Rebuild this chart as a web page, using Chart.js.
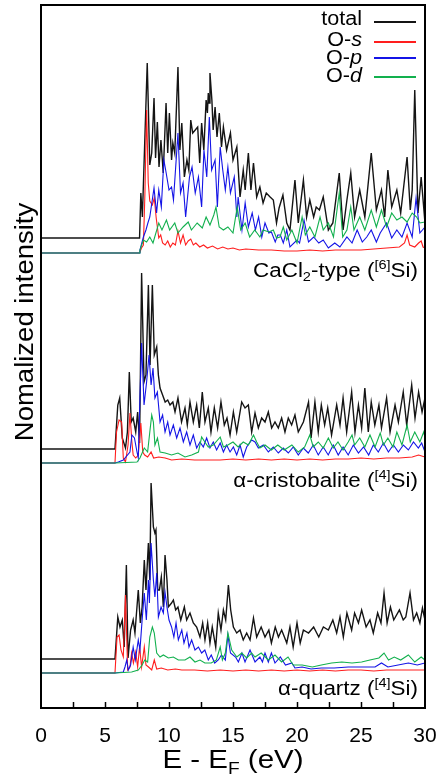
<!DOCTYPE html>
<html>
<head>
<meta charset="utf-8">
<title>O-projected DOS</title>
<script src="https://cdn.jsdelivr.net/npm/chart.js@4.4.1/dist/chart.umd.min.js"></script>
<style>
  html, body { margin: 0; padding: 0; background: #fff; }
  canvas { display: block; }
</style>
</head>
<body>
<canvas id="dos" width="436" height="779"></canvas>
<script>
// series: [energy (eV), intensity above the panel baseline]
const seriesNames = ["total", "O-s", "O-p", "O-d"];
const seriesColors = ["#141414", "#ff1e1e", "#1414e6", "#12b04e"];

// CaCl2-type ([6]Si)
const cacl2Total = [[0,15],[7.7,15],[7.8,60],[7.92,36],[8.3,190],[8.5,88],[8.65,100],[8.83,155],[8.95,95],[9.09,131],[9.22,86],[9.37,113],[9.55,80],[9.77,150],[9.9,100],[10.03,140],[10.2,93],[10.3,110],[10.45,100],[10.7,186],[10.85,103],[11.0,130],[11.2,76],[11.4,93],[11.55,83],[11.7,133],[11.85,120],[12.05,123],[12.24,126],[12.4,90],[12.55,130],[12.72,103],[12.9,153],[13.0,140],[13.07,160],[13.14,150],[13.2,180],[13.35,153],[13.45,123],[13.6,146],[13.75,116],[13.93,140],[14.1,106],[14.25,126],[14.5,103],[14.8,120],[15.0,93],[15.3,106],[15.55,56],[15.8,83],[15.95,63],[16.2,100],[16.4,63],[16.6,90],[16.85,56],[17.1,66],[17.35,50],[17.6,60],[17.9,56],[18.15,53],[18.4,30],[18.6,45],[18.9,58],[19.2,30],[19.45,23],[19.84,73],[20.1,30],[20.5,73],[20.75,36],[21.0,53],[21.3,36],[21.5,46],[21.75,43],[22.05,56],[22.45,23],[22.8,30],[23.3,80],[23.6,23],[23.9,53],[24.2,80],[24.5,36],[24.9,63],[25.3,36],[25.8,100],[26.2,43],[26.6,63],[26.85,36],[27.1,83],[27.4,46],[27.8,63],[28.1,40],[28.6,96],[28.85,43],[29.0,63],[29.2,163],[29.45,40],[29.7,76],[30,30]];
const cacl2S = [[0,0],[7.7,0],[7.85,5],[8.0,8],[8.12,60],[8.25,143],[8.38,70],[8.5,52],[8.7,48],[8.85,55],[9.0,35],[9.2,15],[9.35,18],[9.5,10],[9.7,8],[9.9,12],[10.1,6],[10.3,10],[10.5,8],[10.7,22],[10.9,10],[11.1,18],[11.3,8],[11.5,12],[11.7,14],[11.9,8],[12.1,10],[12.4,6],[12.7,8],[13.0,5],[13.4,7],[13.8,4],[14.2,6],[14.6,4],[15.0,5],[15.5,3],[16.0,4],[17,3],[18,3],[19,2],[20,2],[21,3],[22,2],[23,3],[24,3],[25,3],[26,4],[27,5],[28,6],[28.4,10],[28.6,18],[28.8,8],[29.2,6],[29.5,10],[29.7,12],[29.85,6],[30,5]];
const cacl2P = [[0,0],[7.7,0],[7.73,3],[8.0,16],[8.2,23],[8.35,30],[8.5,36],[8.83,65],[9.03,40],[9.2,63],[9.4,46],[9.6,93],[9.78,80],[10.0,63],[10.2,66],[10.35,53],[10.7,120],[10.9,60],[11.1,70],[11.3,36],[11.6,76],[11.8,86],[12.05,60],[12.3,76],[12.55,46],[12.73,103],[12.95,76],[13.15,136],[13.33,83],[13.6,93],[13.78,46],[14.0,106],[14.2,83],[14.4,63],[14.6,86],[14.8,60],[15.1,76],[15.3,36],[15.4,56],[15.7,23],[15.95,50],[16.2,26],[16.5,40],[16.75,23],[17.0,36],[17.25,16],[17.5,30],[17.8,20],[18.0,21],[18.3,11],[18.5,18],[18.7,18],[18.93,10],[19.2,23],[19.45,6],[20.0,13],[20.2,10],[20.55,33],[20.9,11],[21.3,16],[21.7,10],[22.05,13],[22.45,5],[22.95,10],[23.35,6],[23.9,16],[24.3,10],[24.7,23],[25.1,11],[25.45,16],[25.8,23],[26.2,11],[26.5,20],[27.0,30],[27.4,15],[27.8,23],[28.2,16],[28.6,30],[29.0,16],[29.3,55],[29.6,20],[30,26]];
const cacl2D = [[0,0],[7.7,0],[7.73,3],[8.0,13],[8.25,11],[8.5,16],[8.75,10],[9.2,30],[9.45,23],[9.8,33],[10.05,23],[10.45,30],[10.7,20],[11.1,26],[11.5,31],[11.75,23],[12.2,30],[12.6,25],[12.9,36],[13.2,28],[13.5,38],[13.67,46],[13.92,26],[14.25,23],[14.6,26],[15.0,20],[15.33,46],[15.6,23],[15.95,30],[16.3,16],[16.7,23],[17.1,16],[17.35,23],[17.8,21],[18.15,23],[18.4,15],[18.67,16],[18.93,26],[19.2,13],[19.6,23],[20.0,10],[20.4,36],[20.65,18],[21.0,26],[21.4,16],[21.8,36],[22.05,23],[22.45,30],[22.85,16],[23.3,60],[23.57,16],[23.9,23],[24.2,46],[24.45,23],[24.9,36],[25.3,23],[25.8,43],[26.2,26],[26.6,43],[27.0,26],[27.4,40],[27.8,33],[28.2,36],[28.6,31],[29.0,40],[29.35,36],[29.6,30],[30,31]];

// alpha-cristobalite ([4]Si)
const cristTotal = [[0,14],[5.78,14],[6.0,58],[6.15,65],[6.35,25],[6.6,15],[6.75,31],[6.9,91],[7.05,41],[7.2,45],[7.4,31],[7.55,51],[7.7,20],[7.86,190],[8.05,81],[8.2,88],[8.39,178],[8.52,98],[8.7,178],[8.85,108],[9.04,116],[9.17,88],[9.3,75],[9.5,68],[9.7,61],[9.9,63],[10.08,58],[10.3,61],[10.47,51],[10.7,65],[10.98,41],[11.25,55],[11.43,38],[11.64,61],[11.9,41],[12.16,58],[12.37,35],[12.6,71],[12.81,41],[13.07,55],[13.28,31],[13.54,55],[13.8,35],[14.06,61],[14.32,38],[14.53,45],[14.77,28],[15.03,51],[15.29,31],[15.68,61],[15.94,55],[16.2,58],[16.46,31],[16.72,50],[16.98,35],[17.24,45],[17.5,41],[17.76,51],[18.02,35],[18.28,41],[18.54,35],[18.8,45],[19.06,31],[19.32,45],[19.58,38],[19.84,48],[20.1,31],[20.5,41],[20.9,61],[21.1,25],[21.4,61],[21.66,31],[21.9,58],[22.16,38],[22.4,55],[22.7,28],[23.1,58],[23.36,38],[23.6,65],[23.88,31],[24.27,71],[24.53,31],[24.8,58],[25.05,35],[25.3,75],[25.57,31],[25.8,61],[26.08,38],[26.4,58],[26.6,35],[27.0,65],[27.27,31],[27.66,58],[27.92,41],[28.3,71],[28.57,38],[28.96,78],[29.22,45],[29.5,71],[29.77,51],[30,65]];
const cristS = [[0,0],[5.78,0],[5.9,31],[6.1,43],[6.3,41],[6.43,5],[6.6,1],[6.8,18],[6.95,50],[7.1,21],[7.2,8],[7.4,5],[7.6,8],[7.8,40],[7.95,11],[8.1,8],[8.33,6],[8.6,11],[8.8,5],[9.2,6],[9.7,5],[10.2,3],[11,4],[12,3],[13,3],[14,3],[15,4],[16,3],[17,4],[18,3],[19,4],[20,3],[21,4],[22,3],[23,4],[24,4],[25,5],[26,4],[27,5],[28,5],[29,6],[29.5,8],[30,6]];
const cristP = [[0,0],[5.78,0],[6.04,1],[6.43,3],[6.95,11],[7.1,28],[7.3,25],[7.5,11],[7.6,5],[7.73,65],[7.86,120],[8.05,58],[8.25,81],[8.44,108],[8.6,78],[8.75,95],[8.9,65],[9.09,71],[9.3,41],[9.5,48],[9.69,31],[9.9,41],[10.08,28],[10.34,38],[10.6,25],[10.86,35],[11.12,21],[11.38,31],[11.64,18],[11.9,28],[12.16,15],[12.42,21],[12.68,16],[12.94,25],[13.2,15],[13.46,21],[13.72,13],[14.0,20],[14.25,11],[14.5,18],[14.77,11],[15.03,16],[15.29,8],[15.55,18],[15.8,6],[16.07,16],[16.46,23],[16.72,21],[16.98,15],[17.37,18],[17.76,11],[18.15,16],[18.54,10],[18.93,15],[19.32,10],[19.71,16],[20.1,8],[20.5,15],[20.88,10],[21.27,18],[21.66,8],[22.05,16],[22.44,8],[22.83,18],[23.22,8],[23.6,16],[24.0,8],[24.4,18],[24.8,10],[25.2,16],[25.6,8],[25.96,18],[26.35,11],[26.75,20],[27.14,11],[27.53,18],[27.92,11],[28.31,18],[28.7,13],[29.1,21],[29.48,15],[29.74,20],[30,11]];
const cristD = [[0,0],[5.78,0],[7.5,1],[7.73,5],[8.07,15],[8.33,11],[8.5,31],[8.65,48],[8.78,41],[8.9,18],[9.1,25],[9.3,11],[9.7,10],[10.2,8],[10.7,10],[11.25,6],[11.77,8],[12.3,11],[12.55,26],[12.8,21],[13.07,16],[13.46,18],[14.0,26],[14.25,16],[14.6,18],[15.0,21],[15.4,16],[15.8,21],[16.2,18],[16.6,28],[16.85,21],[17.1,15],[17.5,18],[18.0,13],[18.5,18],[19.0,13],[19.6,18],[20.1,11],[20.6,16],[21.0,28],[21.27,16],[21.66,21],[22.05,15],[22.45,25],[22.83,15],[23.2,21],[23.6,13],[24.0,21],[24.3,28],[24.5,18],[24.9,25],[25.3,16],[25.7,28],[26.1,16],[26.5,30],[26.75,18],[27.1,25],[27.5,16],[27.8,31],[28.2,18],[28.6,38],[28.85,21],[29.2,31],[29.6,21],[29.9,31],[30,25]];

// alpha-quartz ([4]Si)
const quartzTotal = [[0,14],[5.78,14],[6.0,56],[6.17,46],[6.35,53],[6.5,26],[6.67,108],[6.8,15],[7.0,43],[7.2,53],[7.34,40],[7.6,83],[7.76,50],[7.9,66],[8.07,113],[8.2,83],[8.39,130],[8.5,93],[8.6,190],[8.78,146],[8.9,140],[8.98,143],[9.12,83],[9.25,83],[9.4,96],[9.56,66],[9.69,118],[9.84,93],[9.95,66],[10.2,70],[10.34,73],[10.52,63],[10.7,66],[10.92,53],[11.2,66],[11.38,53],[11.64,60],[11.9,50],[12.16,46],[12.42,36],[12.63,50],[12.81,33],[13.02,50],[13.2,30],[13.38,46],[13.65,26],[13.85,60],[14.06,43],[14.25,63],[14.43,53],[14.64,88],[14.82,63],[15.03,46],[15.29,40],[15.55,43],[15.8,33],[16.07,40],[16.33,33],[16.6,55],[16.85,36],[17.2,46],[17.5,36],[17.8,43],[18.0,30],[18.3,46],[18.55,36],[18.8,43],[19.2,30],[19.45,46],[19.7,26],[20.0,50],[20.25,30],[20.5,43],[20.9,40],[21.3,46],[21.7,36],[22.06,46],[22.45,43],[22.8,53],[23.1,40],[23.36,56],[23.62,36],[23.9,60],[24.27,43],[24.5,60],[24.8,50],[25.05,63],[25.4,46],[25.7,53],[25.96,40],[26.3,60],[26.56,50],[26.8,80],[27.04,50],[27.3,66],[27.56,53],[28.0,63],[28.3,53],[28.5,56],[28.83,80],[29.1,53],[29.35,60],[29.6,50],[29.8,65],[30,53]];
const quartzS = [[0,0],[5.78,0],[5.94,36],[6.1,38],[6.25,23],[6.43,16],[6.6,78],[6.77,3],[6.95,6],[7.08,20],[7.22,10],[7.4,21],[7.55,6],[7.7,26],[7.86,6],[8.07,26],[8.2,8],[8.4,6],[8.65,3],[8.85,13],[9.04,4],[9.4,5],[9.9,3],[10.5,4],[11,3],[12,3],[13,2],[14,3],[15,2],[16,3],[17,2],[18,3],[19,2],[20,3],[21,2],[22,3],[23,2],[24,3],[25,3],[26,2],[27,3],[28,3],[29,3],[30,3]];
const quartzP = [[0,0],[5.78,0],[6.43,1],[6.56,6],[6.7,13],[6.82,3],[7.0,8],[7.2,26],[7.37,13],[7.6,33],[7.73,23],[7.9,53],[8.07,80],[8.23,53],[8.39,93],[8.47,70],[8.6,130],[8.78,93],[8.9,76],[9.04,100],[9.17,56],[9.38,66],[9.56,60],[9.69,81],[9.84,66],[10.0,53],[10.2,46],[10.38,36],[10.55,50],[10.73,33],[11.0,43],[11.17,30],[11.4,40],[11.56,26],[11.77,33],[12.03,23],[12.3,26],[12.55,20],[12.8,23],[13.07,13],[13.3,18],[13.57,10],[13.85,13],[14.1,18],[14.4,13],[14.6,38],[14.8,20],[15.2,16],[15.42,11],[15.7,20],[15.94,11],[16.33,23],[16.72,11],[17.1,16],[17.3,11],[17.5,20],[17.76,11],[18.0,20],[18.28,10],[18.7,16],[19.1,8],[19.6,10],[19.84,5],[20.4,6],[21.1,4],[21.9,5],[22.9,5],[24.0,6],[25.0,6],[26.1,6],[26.6,10],[27.1,6],[27.9,8],[28.7,10],[29.4,8],[30,10]];
const quartzD = [[0,0],[5.78,0],[7.08,1],[7.6,3],[7.9,8],[8.1,13],[8.33,11],[8.5,36],[8.7,46],[8.85,40],[9.04,20],[9.3,16],[9.56,18],[9.95,15],[10.34,16],[10.73,13],[11.25,13],[11.64,16],[12.03,11],[12.42,13],[12.8,10],[13.3,10],[13.7,13],[14.0,26],[14.17,13],[14.4,20],[14.6,40],[14.9,23],[15.3,16],[15.68,20],[16.07,15],[16.46,20],[16.72,16],[17.2,20],[17.76,13],[18.28,18],[18.8,11],[19.3,16],[19.7,8],[20.4,8],[21.2,6],[21.9,8],[22.7,10],[23.5,11],[24.3,10],[25.05,11],[25.7,13],[26.4,15],[26.8,20],[27.15,13],[27.6,16],[28.1,13],[28.7,18],[29.2,11],[29.7,16],[30,13]];

const panelSeries = [
  [cacl2Total, cacl2S, cacl2P, cacl2D],
  [cristTotal, cristS, cristP, cristD],
  [quartzTotal, quartzS, quartzP, quartzD]
];
// vertical stacking offset of each panel (same units as the intensities)
const panelOffsets = [455, 245, 35];
const panelNames = [
  [{ t: "CaCl" }, { t: "2", sub: true }, { t: "-type (" }, { t: "[6]", sup: true }, { t: "Si)" }],
  [{ t: "\u03b1-cristobalite (" }, { t: "[4]", sup: true }, { t: "Si)" }],
  [{ t: "\u03b1-quartz (" }, { t: "[4]", sup: true }, { t: "Si)" }]
];
const xTicks = { min: 0, max: 30, step: 2.5, labelEvery: 5 };

const FONT = "'Liberation Sans', Arial, sans-serif";

function drawRuns(ctx, runs, x, y, size, align, sx) {
  const fontFor = (r) => {
    const s = r.sub || r.sup ? size * 0.65 : size;
    return (r.italic ? "italic " : "") + s + "px " + FONT;
  };
  let width = 0;
  runs.forEach((r) => {
    ctx.font = fontFor(r);
    width += ctx.measureText(r.t).width;
  });
  ctx.save();
  ctx.translate(x, y);
  ctx.scale(sx, 1);
  let cx = align === "right" ? -width : align === "center" ? -width / 2 : 0;
  ctx.textAlign = "left";
  ctx.textBaseline = "alphabetic";
  ctx.fillStyle = "#000";
  runs.forEach((r) => {
    ctx.font = fontFor(r);
    const dy = r.sub ? size * 0.22 : r.sup ? -size * 0.38 : 0;
    ctx.fillText(r.t, cx, dy);
    cx += ctx.measureText(r.t).width;
  });
  ctx.restore();
}

function nameRuns(name) {
  const parts = name.split("-");
  if (parts.length < 2) return [{ t: name }];
  return [{ t: parts[0] + "-" }, { t: parts[1], italic: true }];
}

const decorations = {
  id: "decorations",
  afterDraw(chart) {
    const { ctx, chartArea: area, scales } = chart;
    const xs = scales.x;

    // frame
    ctx.save();
    ctx.strokeStyle = "#000";
    ctx.lineWidth = 2;
    ctx.strokeRect(area.left, area.top, area.right - area.left, area.bottom - area.top);

    // inward tick marks on the energy axis
    ctx.lineWidth = 1.5;
    xs.ticks.forEach((t) => {
      if (t.value <= xTicks.min || t.value >= xTicks.max) return;
      const px = Math.round(xs.getPixelForValue(t.value)) + 0.5;
      ctx.beginPath();
      ctx.moveTo(px, area.bottom);
      ctx.lineTo(px, area.bottom - 6);
      ctx.stroke();
    });
    ctx.restore();

    // legend
    const legendText = [25, 46, 64, 82];
    const legendLine = [22, 42, 58, 77];
    seriesNames.forEach((name, i) => {
      drawRuns(ctx, nameRuns(name), 362, legendText[i], 20, "right", 1.08);
      ctx.save();
      ctx.strokeStyle = seriesColors[i];
      ctx.lineWidth = 1.8;
      ctx.beginPath();
      ctx.moveTo(374, legendLine[i]);
      ctx.lineTo(416, legendLine[i]);
      ctx.stroke();
      ctx.restore();
    });

    // panel names
    const nameBase = [277, 487, 695];
    panelNames.forEach((runs, i) => drawRuns(ctx, runs, 418, nameBase[i], 20, "right", 1.12));

    // axis titles
    drawRuns(ctx, [{ t: "E - E" }, { t: "F", sub: true }, { t: " (eV)" }],
      (area.left + area.right) / 2, 768, 25, "center", 1.18);
    ctx.save();
    ctx.translate(33, 322);
    ctx.rotate(-Math.PI / 2);
    drawRuns(ctx, [{ t: "Nomalized intensity" }], 0, 0, 25, "center", 1.1);
    ctx.restore();
  }
};

const datasets = [];
panelSeries.forEach((series, p) => {
  series.forEach((pts, s) => {
    datasets.push({
      label: seriesNames[s],
      data: pts.map(([x, y]) => ({ x, y: y + panelOffsets[p] })),
      borderColor: seriesColors[s],
      borderWidth: s === 0 ? 1.4 : 1.1,
      pointRadius: 0,
      tension: 0,
      order: [4, 3, 2, 1][s]
    });
  });
});

new Chart(document.getElementById("dos"), {
  type: "line",
  data: { datasets },
  options: {
    responsive: false,
    animation: false,
    layout: { padding: { top: 5, right: 11, left: 0, bottom: 0 }, autoPadding: false },
    plugins: { legend: { display: false }, tooltip: { enabled: false } },
    scales: {
      x: {
        type: "linear",
        min: xTicks.min,
        max: xTicks.max,
        grid: { display: false },
        border: { display: false },
        ticks: {
          stepSize: xTicks.step,
          autoSkip: false,
          maxRotation: 0,
          padding: 8,
          color: "#000",
          font: { family: FONT, size: 21 },
          callback: (v) => (v % xTicks.labelEvery === 0 ? String(v) : "")
        },
        afterFit: (scale) => {
          scale.height = 71;
          scale.paddingLeft = 0;
          scale.paddingRight = 0;
        }
      },
      y: {
        min: 0,
        max: 703,
        grid: { display: false },
        border: { display: false },
        ticks: { display: false },
        afterFit: (scale) => { scale.width = 41; }
      }
    }
  },
  plugins: [decorations]
});
</script>
</body>
</html>
